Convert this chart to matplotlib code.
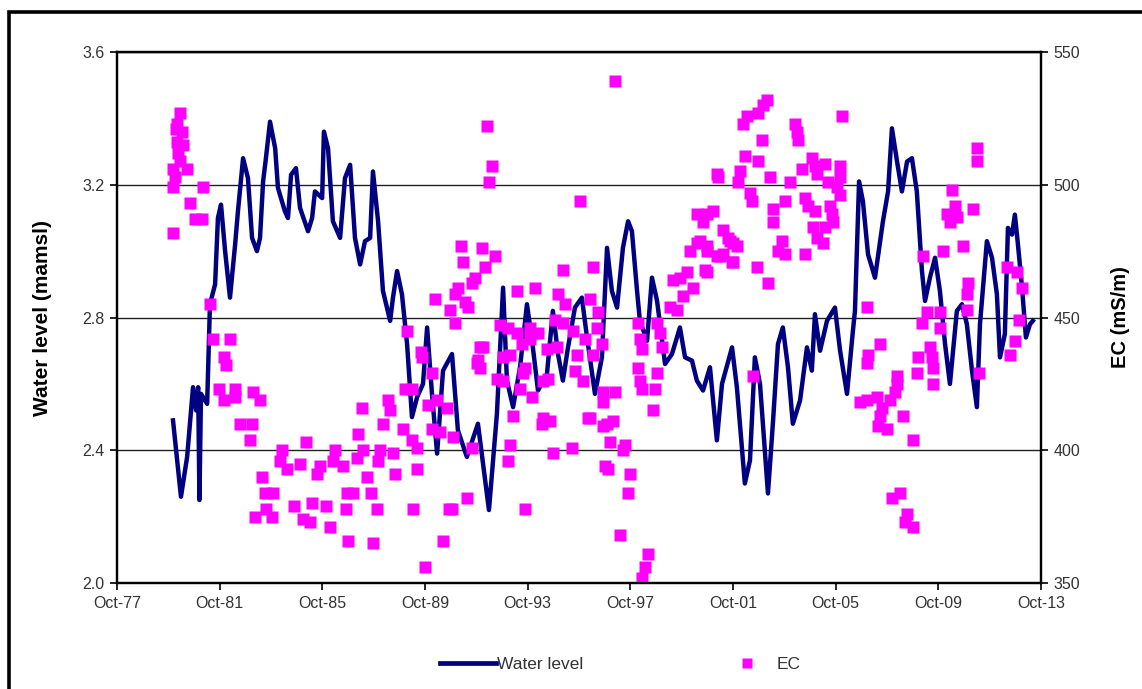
import matplotlib
matplotlib.use("Agg")
import matplotlib.pyplot as plt
from matplotlib.lines import Line2D
from matplotlib.patches import Rectangle

plt.rcParams['font.family'] = ['Liberation Sans', 'DejaVu Sans']

# water level record (decimal year, m amsl)
wl_year = [1979.93, 1980.24, 1980.48, 1980.71, 1980.83, 1980.91, 1980.96, 1981.02, 1981.26, 1981.37,
           1981.57, 1981.68, 1981.80, 1981.96, 1982.15, 1982.35, 1982.46, 1982.66, 1982.85, 1983.01,
           1983.20, 1983.32, 1983.44, 1983.55, 1983.71, 1983.91, 1984.02, 1984.29, 1984.41, 1984.53,
           1984.72, 1984.88, 1985.19, 1985.35, 1985.46, 1985.74, 1985.81, 1985.97, 1986.16, 1986.44,
           1986.63, 1986.83, 1987.02, 1987.22, 1987.41, 1987.61, 1987.72, 1987.92, 1988.11, 1988.39,
           1988.50, 1988.66, 1988.85, 1989.05, 1989.24, 1989.44, 1989.67, 1989.83, 1990.02, 1990.22,
           1990.45, 1990.80, 1991.03, 1991.38, 1991.81, 1992.24, 1992.55, 1992.79, 1992.94, 1993.18,
           1993.45, 1993.72, 1993.92, 1994.15, 1994.50, 1994.73, 1994.93, 1995.12, 1995.32, 1995.59,
           1995.86, 1996.06, 1996.37, 1996.64, 1996.84, 1997.03, 1997.23, 1997.46, 1997.66, 1997.81,
           1998.01, 1998.12, 1998.40, 1998.59, 1998.79, 1999.10, 1999.37, 1999.68, 1999.88, 2000.15,
           2000.34, 2000.58, 2000.85, 2001.12, 2001.32, 2001.71, 2001.90, 2002.21, 2002.41, 2002.60,
           2002.80, 2003.11, 2003.31, 2003.50, 2003.69, 2003.89, 2004.08, 2004.36, 2004.63, 2004.82,
           2004.94, 2005.14, 2005.41, 2005.72, 2005.92, 2006.19, 2006.42, 2006.50, 2006.66, 2006.81,
           2007.01, 2007.28, 2007.59, 2007.79, 2007.94, 2008.14, 2008.33, 2008.53, 2008.72, 2008.91,
           2009.11, 2009.23, 2009.42, 2009.62, 2009.81, 2010.01, 2010.20, 2010.47, 2010.67, 2010.86,
           2011.06, 2011.25, 2011.37, 2011.64, 2011.84, 2012.03, 2012.15, 2012.34, 2012.46, 2012.62,
           2012.73, 2012.85, 2013.01, 2013.16, 2013.32, 2013.43]
wl_level = [2.49, 2.26, 2.38, 2.59, 2.52, 2.59, 2.25, 2.57, 2.54, 2.84,
            2.90, 3.10, 3.14, 3.00, 2.86, 3.02, 3.12, 3.28, 3.22, 3.04,
            3.00, 3.04, 3.21, 3.28, 3.39, 3.31, 3.19, 3.12, 3.10, 3.23,
            3.25, 3.13, 3.06, 3.10, 3.18, 3.16, 3.36, 3.31, 3.09, 3.04,
            3.22, 3.26, 3.04, 2.96, 3.03, 3.04, 3.24, 3.09, 2.88, 2.79,
            2.86, 2.94, 2.87, 2.72, 2.50, 2.56, 2.60, 2.77, 2.57, 2.39,
            2.64, 2.69, 2.46, 2.38, 2.48, 2.22, 2.51, 2.89, 2.61, 2.53,
            2.65, 2.84, 2.73, 2.58, 2.63, 2.82, 2.69, 2.61, 2.71, 2.83,
            2.86, 2.74, 2.57, 2.68, 3.01, 2.88, 2.83, 3.01, 3.09, 3.06,
            2.88, 2.79, 2.73, 2.92, 2.85, 2.66, 2.69, 2.77, 2.68, 2.67,
            2.61, 2.58, 2.65, 2.43, 2.60, 2.71, 2.59, 2.30, 2.37, 2.68,
            2.60, 2.27, 2.49, 2.72, 2.77, 2.65, 2.48, 2.55, 2.71, 2.64,
            2.81, 2.70, 2.79, 2.83, 2.70, 2.57, 2.76, 2.82, 3.21, 3.15,
            2.99, 2.92, 3.09, 3.18, 3.37, 3.27, 3.18, 3.27, 3.28, 3.18,
            2.94, 2.85, 2.92, 2.98, 2.88, 2.72, 2.60, 2.82, 2.84, 2.78,
            2.64, 2.53, 2.78, 3.03, 2.98, 2.87, 2.68, 2.75, 3.07, 3.05,
            3.11, 3.02, 2.89, 2.74, 2.78, 2.79]

# electrical conductivity samples (decimal year, mS/m)
ec_year = [1980.20, 1980.09, 1980.28, 1980.09, 1980.32, 1980.13, 1980.48, 1979.93, 1979.93, 1981.10,
           1980.59, 1980.79, 1981.06, 1979.93, 1980.05, 1980.20, 1980.01, 1981.37, 1981.49, 1982.15,
           1981.92, 1982.00, 1981.72, 1981.92, 1982.35, 1982.35, 1983.05, 1983.32, 1982.54, 1983.01,
           1982.93, 1984.18, 1984.10, 1984.37, 1984.88, 1985.11, 1983.40, 1983.83, 1983.52, 1984.65,
           1985.35, 1983.13, 1983.55, 1983.79, 1985.00, 1985.27, 1985.89, 1986.05, 1985.66, 1985.54,
           1986.24, 1986.16, 1986.55, 1986.71, 1986.94, 1986.67, 1986.75, 1987.72, 1987.14, 1987.29,
           1987.33, 1987.10, 1987.49, 1987.64, 1987.88, 1988.11, 1988.31, 1988.39, 1987.92, 1988.00,
           1988.50, 1988.58, 1988.89, 1988.97, 1989.24, 1989.24, 1989.44, 1989.44, 1989.28, 1989.75,
           1989.05, 1989.59, 1989.63, 1990.02, 1989.87, 1990.22, 1990.02, 1990.33, 1990.61, 1990.45,
           1990.68, 1990.14, 1990.72, 1991.15, 1991.97, 1991.23, 1992.48, 1992.09, 1991.70, 1991.58,
           1991.03, 1990.92, 1991.31, 1991.42, 1990.92, 1992.16, 1992.36, 1992.24, 1995.79, 1997.15,
           1995.12, 1996.29, 1993.33, 1994.03, 1994.93, 1995.20, 1996.18, 1996.49, 1992.67, 1992.98,
           1993.33, 1993.84, 1994.15, 1994.81, 1995.12, 1995.51, 1993.84, 1993.53, 1994.50, 1994.89,
           1995.98, 1996.45, 1996.64, 1992.01, 1991.81, 1992.79, 1993.06, 1993.64, 1995.67, 1996.29,
           1991.89, 1992.55, 1992.79, 1993.57, 1994.35, 1994.54, 1995.59, 1995.90, 1993.45, 1993.92,
           1993.18, 1994.35, 1994.62, 1994.31, 1996.18, 1996.68, 1996.68, 1997.15, 1996.84, 1997.07,
           1993.06, 1992.98, 1994.73, 1995.47, 1996.96, 1997.54, 1997.46, 1996.88, 1997.73, 1997.66,
           1991.38, 1990.80, 1993.64, 1990.84, 1991.58, 1998.05, 1998.12, 1998.20, 1998.05, 1998.12,
           1998.20, 1998.79, 1998.90, 1998.98, 1998.79, 1998.71, 1998.63, 1999.29, 1999.41, 1999.68,
           1999.96, 2000.19, 1999.80, 1999.57, 2000.07, 2000.34, 2000.73, 2001.12, 2001.36, 2001.75,
           2000.34, 2000.97, 2001.36, 2001.63, 2001.90, 2000.66, 1996.76, 1997.34, 1998.44, 1998.32,
           1998.20, 1991.89, 1991.77, 1996.10, 1996.68, 2003.07, 2002.92, 2002.72, 2002.29, 2002.14,
           2005.99, 2002.88, 2004.16, 2004.24, 2004.28, 2002.21, 2002.72, 2002.02, 2001.12, 2001.16,
           2001.94, 2003.19, 2003.97, 2004.82, 2004.94, 2004.43, 2005.33, 2005.92, 2005.02, 2005.45,
           2005.92, 2005.80, 2005.92, 2002.41, 2002.49, 2003.31, 2003.77, 2004.55, 2004.67, 2004.94,
           2005.53, 2005.60, 2005.64, 2005.33, 2004.86, 2005.02, 2005.25, 2000.73, 2000.58, 2000.46,
           2001.55, 2001.75, 2000.73, 2001.24, 2001.71, 2000.73, 2003.31, 2003.66, 2003.50, 2003.77,
           2004.55, 2002.68, 2003.11, 2006.97, 2010.28, 2010.40, 2010.08, 2010.47, 2010.20, 2011.10,
           2011.25, 2011.25, 2009.15, 2009.93, 2010.71, 2010.90, 2010.86, 2010.86, 2012.42, 2012.81,
           2013.01, 2009.30, 2009.81, 2009.11, 2009.81, 2007.47, 2007.01, 2006.97, 2008.95, 2009.42,
           2009.50, 2009.54, 2008.91, 2009.54, 2006.69, 2006.97, 2007.36, 2007.55, 2007.47, 2007.40,
           2007.75, 2008.14, 2008.14, 2008.06, 2007.86, 2008.37, 2008.76, 2007.94, 2008.25, 2008.53,
           2008.45, 2008.76, 2011.33, 2012.54, 2012.73, 2012.89, 2002.53]
ec_value = [527, 523, 520, 516, 515, 512, 506, 506, 499, 499,
            493, 487, 487, 482, 521, 509, 503, 455, 442, 442,
            435, 432, 423, 419, 423, 420, 422, 419, 410, 410,
            404, 400, 396, 393, 395, 403, 390, 384, 384, 379,
            380, 375, 378, 375, 374, 373, 379, 371, 394, 391,
            400, 396, 394, 384, 384, 378, 366, 365, 406, 416,
            400, 397, 390, 384, 378, 410, 419, 415, 396, 400,
            399, 391, 408, 423, 423, 404, 401, 393, 378, 356,
            445, 437, 435, 429, 417, 419, 408, 407, 416, 366,
            378, 457, 453, 477, 476, 471, 473, 469, 465, 463,
            461, 459, 456, 454, 448, 522, 507, 501, 494, 539,
            468, 469, 460, 461, 459, 455, 457, 452, 447, 446,
            444, 446, 444, 449, 448, 445, 442, 440, 438, 439,
            442, 446, 440, 439, 434, 435, 436, 431, 436, 436,
            431, 427, 426, 429, 426, 427, 430, 426, 423, 420,
            413, 412, 411, 410, 412, 418, 422, 422, 410, 411,
            402, 396, 399, 401, 403, 402, 400, 393, 391, 384,
            382, 378, 378, 405, 401, 448, 442, 438, 431, 426,
            423, 448, 444, 439, 429, 423, 415, 454, 464, 465,
            467, 461, 458, 453, 475, 478, 475, 473, 474, 471,
            489, 490, 483, 479, 477, 468, 394, 368, 361, 356,
            352, 439, 433, 412, 409, 532, 530, 527, 526, 523,
            526, 517, 523, 520, 517, 511, 509, 505, 504, 503,
            501, 503, 501, 510, 507, 506, 508, 507, 504, 501,
            503, 499, 496, 497, 494, 491, 494, 495, 492, 490,
            492, 489, 486, 484, 484, 480, 478, 489, 486, 479,
            480, 478, 477, 473, 471, 467, 486, 479, 475, 474,
            474, 469, 463, 454, 498, 492, 489, 488, 486, 491,
            514, 509, 473, 475, 477, 463, 459, 453, 469, 467,
            461, 452, 452, 448, 446, 440, 436, 433, 435, 439,
            435, 431, 429, 425, 418, 419, 420, 416, 413, 409,
            408, 428, 425, 422, 419, 413, 404, 382, 384, 376,
            373, 371, 429, 436, 441, 449, 428]

x_ticks = [1977.75 + 4 * i for i in range(10)]
x_labels = ['Oct-77', 'Oct-81', 'Oct-85', 'Oct-89', 'Oct-93',
            'Oct-97', 'Oct-01', 'Oct-05', 'Oct-09', 'Oct-13']
wl_ticks = [2.0, 2.4, 2.8, 3.2, 3.6]
ec_ticks = [350, 400, 450, 500, 550]

fig = plt.figure(figsize=(11.42, 6.89), dpi=100)
ax = fig.add_axes([0.1025, 0.1538, 0.8091, 0.7707])
ax2 = ax.twinx()

ax.plot(wl_year, wl_level, color='#000080', lw=3.2, solid_joinstyle='round')
ax2.plot(ec_year, ec_value, 's', color='#FF00FF', ms=8.3, mec='none', ls='none')

ax.set_xlim(1977.75, 2013.75)
ax.set_ylim(2.0, 3.6)
ax2.set_ylim(350, 550)
ax.set_xticks(x_ticks)
ax.set_xticklabels(x_labels)
ax.set_yticks(wl_ticks)
ax.set_yticklabels(['%.1f' % v for v in wl_ticks])
ax2.set_yticks(ec_ticks)

ax.grid(axis='y', color='#202020', lw=1.0)
ax.set_axisbelow(True)
for a in (ax, ax2):
    for s in a.spines.values():
        s.set_color('black')
        s.set_linewidth(1.6)
    a.tick_params(direction='out', length=5, width=1.2, color='black',
                  labelsize=11.5, labelcolor='#333333', pad=4)

ax.set_ylabel('Water level (mamsl)', fontsize=15, fontweight='bold', labelpad=22)
ax2.set_ylabel('EC (mS/m)', fontsize=14.5, fontweight='bold', labelpad=22)

handles = [Line2D([], [], color='#000080', lw=3.4),
           Line2D([], [], marker='s', color='#FF00FF', ls='none', ms=7, mec='none')]
fig.legend(handles, ['Water level', 'EC'], loc='center', bbox_to_anchor=(0.543, 0.036),
           ncol=2, frameon=False, fontsize=12.5, handlelength=3.2, handletextpad=0.1,
           columnspacing=7.8, labelcolor='#333333')

# outer frame of the chart
fig.patches.append(Rectangle((0.008, -0.2), 1.2, 1.183, transform=fig.transFigure,
                             fill=False, ec='black', lw=2.6))

fig.savefig('out.png', dpi=100)
